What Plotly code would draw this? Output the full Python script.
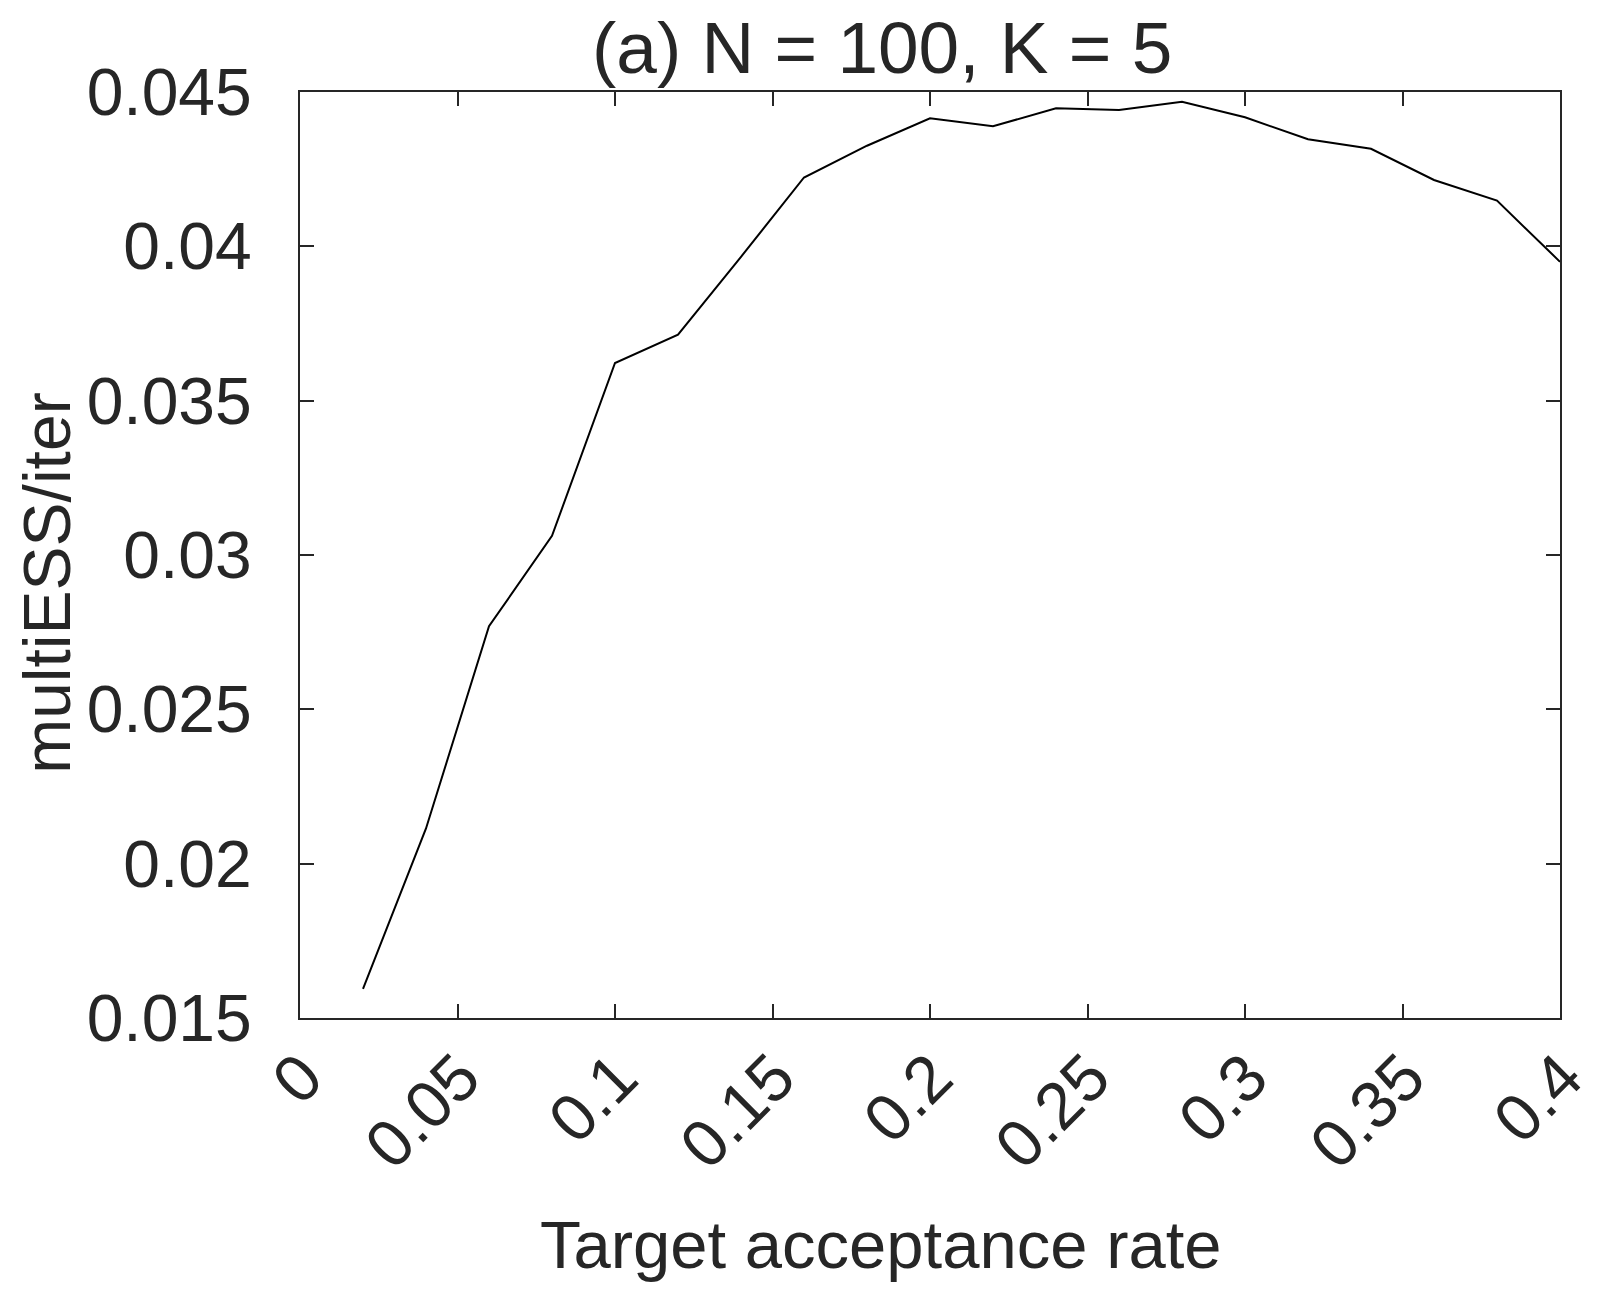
import plotly.graph_objects as go

# Data
target_rate = [0.02, 0.04, 0.06, 0.08, 0.10, 0.12, 0.14, 0.16, 0.18, 0.20,
               0.22, 0.24, 0.26, 0.28, 0.30, 0.32, 0.34, 0.36, 0.38, 0.40]
multi_ess = [0.01594, 0.02114, 0.02769, 0.03062, 0.03622, 0.03714, 0.03966,
             0.04223, 0.04326, 0.04415, 0.04389, 0.04447, 0.04442, 0.04468,
             0.04418, 0.04347, 0.04316, 0.04215, 0.04148, 0.03950]

x_ticks = [0, 0.05, 0.1, 0.15, 0.2, 0.25, 0.3, 0.35, 0.4]
x_ticktext = ["0", "0.05", "0.1", "0.15", "0.2", "0.25", "0.3", "0.35", "0.4"]
y_ticks = [0.015, 0.02, 0.025, 0.03, 0.035, 0.04, 0.045]
y_ticktext = ["0.015", "0.02", "0.025", "0.03", "0.035", "0.04", "0.045"]

title_text = "(a) N = 100, K = 5"
x_title = "Target acceptance rate"
y_title = "multiESS/iter"

TXT = "#262626"
FONT = "Liberation Sans, Arial, Helvetica, sans-serif"

fig = go.Figure()
fig.add_trace(go.Scatter(x=target_rate, y=multi_ess, mode="lines",
                         line=dict(color="black", width=2), showlegend=False))

W, H = 1600, 1290
L, R, T, B = 292, 34, 84, 280

axis_common = dict(showgrid=False, zeroline=False, showline=True, linecolor=TXT,
                   linewidth=2, mirror="ticks", ticks="inside", ticklen=14,
                   tickwidth=2, tickcolor=TXT,
                   tickfont=dict(family=FONT, size=66, color=TXT))

fig.update_layout(
    width=W, height=H,
    margin=dict(l=L, r=R, t=T, b=B, pad=0),
    paper_bgcolor="white", plot_bgcolor="white",
    xaxis=dict(range=[0, 0.4], tickvals=x_ticks, ticktext=x_ticktext,
               tickangle=-45, ticklabelstandoff=-8, ticklabelshift=3,
               ticklabeloverflow="allow", **axis_common),
    yaxis=dict(range=[0.015, 0.045], tickvals=y_ticks, ticktext=y_ticktext,
               ticklabelstandoff=33, **axis_common),
)

pw = W - L - R
ph = H - T - B


def px(xp):
    return (xp - L) / pw


def py(yp):
    return (H - B - yp) / ph


fig.add_annotation(text=title_text, xref="paper", yref="paper",
                   x=px(880), y=py(39), yanchor="middle", xanchor="center",
                   showarrow=False, font=dict(family=FONT, size=73, color=TXT))
fig.add_annotation(text=x_title, xref="paper", yref="paper",
                   x=px(879), y=py(1236), yanchor="middle", xanchor="center",
                   showarrow=False, font=dict(family=FONT, size=67, color=TXT))
fig.add_annotation(text=y_title, xref="paper", yref="paper",
                   x=px(36), y=py(575), yanchor="middle", xanchor="center",
                   showarrow=False, textangle=-90, borderpad=0,
                   font=dict(family=FONT, size=66, color=TXT))

fig.write_html("out.html")
